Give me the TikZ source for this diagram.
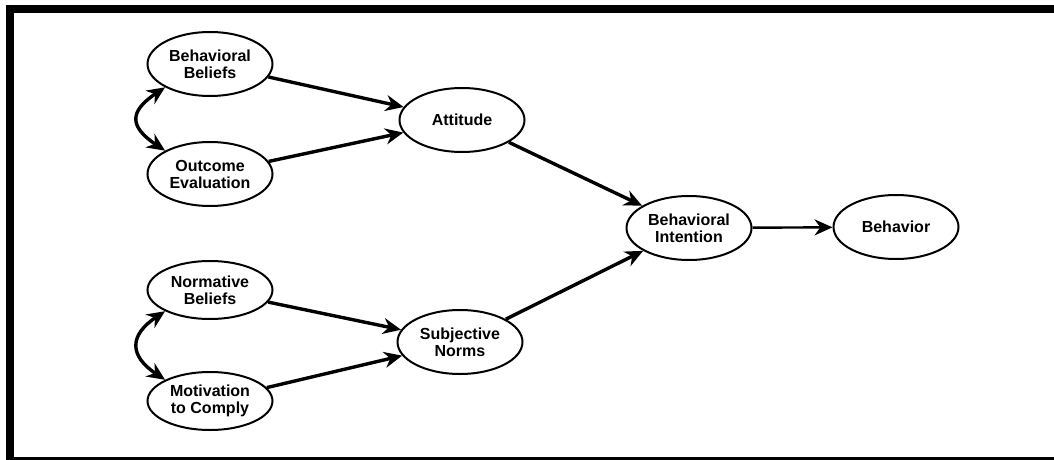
\documentclass[tikz,border=0pt]{standalone}
\usepackage{fontspec}
\setmainfont{Liberation Sans}
\usetikzlibrary{arrows.meta,shapes.geometric}

\tikzset{
  construct/.style={ellipse, draw, line width=1pt, minimum width=62.5pt,
    minimum height=32pt, inner sep=0pt, align=center,
    font=\bfseries\fontsize{8}{8.5}\selectfont},
  link/.style={-{Stealth[length=9pt,width=8pt]}, line width=1.7pt},
  covary/.style={{Stealth[length=9pt,width=8pt]}-{Stealth[length=9pt,width=8pt]}, line width=1.7pt}
}

\begin{document}
\begin{tikzpicture}[x=0.5pt,y=-0.5pt]
\clip (0,0) rectangle (1054,460);
\draw[line width=4pt] (10,9) rectangle (1080,461);

% beliefs
\node[construct] (bb) at (210,64) {Behavioral\\Beliefs};
\node[construct] (oe) at (210,174) {Outcome\\Evaluation};
\node[construct, minimum height=29pt] (nb) at (210,290) {Normative\\Beliefs};
\node[construct, minimum height=29pt] (mc) at (210,401) {Motivation\\to Comply};

% determinants
\node[construct] (att) at (462,120) {Attitude};
\node[construct] (sn) at (460,342) {Subjective\\Norms};
\node[construct] (bi) at (689,228) {Behavioral\\Intention};
\node[construct] (beh) at (896,227) {Behavior};

\draw[covary] (bb.south west) .. controls +(-36,24) and +(-36,-24) .. (oe.north west);
\draw[covary] (nb.south west) .. controls +(-36,24) and +(-36,-24) .. (mc.north west);

\draw[link] (bb) -- (att);
\draw[link] (oe) -- (att);
\draw[link] (nb) -- (sn);
\draw[link] (mc) -- (sn);
\draw[link] (att) -- (bi);
\draw[link] (sn) -- (bi);
\draw[link, line width=1.2pt] (bi) -- (beh);
\end{tikzpicture}
\end{document}
